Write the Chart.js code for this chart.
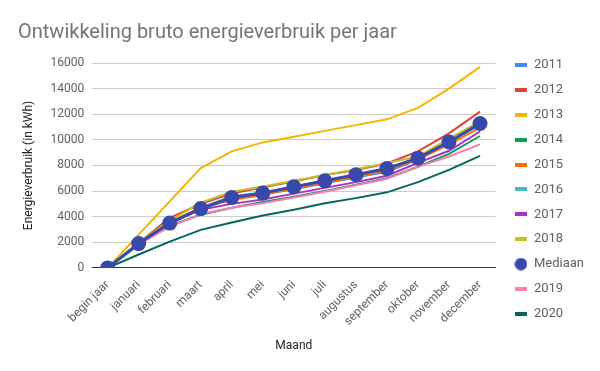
<!DOCTYPE html>
<html>
<head>
<meta charset="utf-8">
<script src="https://cdn.jsdelivr.net/npm/chart.js@4"></script>
<style>
  body { margin: 0; background: #fff; }
  #wrap { width: 600px; height: 371px; position: relative; }
</style>
</head>
<body>
<div id="wrap"><canvas id="myChart"></canvas></div>
<script>
const months = ['begin jaar', 'januari', 'februari', 'maart', 'april', 'mei', 'juni', 'juli',
  'augustus', 'september', 'oktober', 'november', 'december'];

const y2011 = [0, 1900, 3500, 4600, 5400, 5750, 6150, 6600, 7050, 7500, 8450, 9800, 11200];
const y2012 = [0, 1950, 3900, 5000, 5800, 6300, 6750, 7250, 7650, 8150, 9100, 10500, 12200];
const y2013 = [0, 2600, 5200, 7800, 9100, 9800, 10250, 10700, 11150, 11600, 12500, 14000, 15700];
const y2014 = [0, 1850, 3300, 4150, 4700, 5150, 5550, 6000, 6500, 7000, 7900, 8900, 10300];
const y2015 = [0, 1900, 3600, 4700, 5300, 5700, 6200, 6650, 7100, 7600, 8450, 9650, 10950];
const y2016 = [0, 1750, 3400, 4700, 5600, 5900, 6350, 6800, 7250, 7700, 8550, 9850, 11200];
const y2017 = [0, 1900, 3500, 4550, 5000, 5350, 5800, 6250, 6700, 7200, 8200, 9150, 10650];
const y2018 = [0, 1950, 3700, 5100, 5950, 6350, 6800, 7250, 7700, 8200, 8700, 10100, 11450];
const mediaan = [0, 1900, 3500, 4630, 5500, 5840, 6330, 6800, 7270, 7760, 8570, 9840, 11280];
const y2019 = [0, 1850, 3200, 4200, 4700, 5050, 5500, 5950, 6450, 6950, 7900, 8700, 9650];
const y2020 = [0, 1050, 2050, 2970, 3550, 4100, 4550, 5050, 5450, 5900, 6700, 7650, 8750];

const yTicks = [0, 2000, 4000, 6000, 8000, 10000, 12000, 14000, 16000];

// legend markers: short bar for lines, dot for the median
function barIcon(color) {
  const c = document.createElement('canvas');
  c.width = 12; c.height = 4;
  const g = c.getContext('2d');
  g.fillStyle = color;
  g.fillRect(0, 0, 12, 4);
  return c;
}
function dotIcon(color) {
  const c = document.createElement('canvas');
  c.width = 13; c.height = 13;
  const g = c.getContext('2d');
  g.fillStyle = color;
  g.beginPath();
  g.arc(6.5, 6.5, 6.2, 0, Math.PI * 2);
  g.fill();
  return c;
}

const series = [
  ['2011', y2011, '#4285f4'],
  ['2012', y2012, '#db4437'],
  ['2013', y2013, '#f4b400'],
  ['2014', y2014, '#0f9d58'],
  ['2015', y2015, '#ff6d01'],
  ['2016', y2016, '#46bdc6'],
  ['2017', y2017, '#ab30c4'],
  ['2018', y2018, '#c2c026'],
  ['Mediaan', mediaan, '#3949ab'],
  ['2019', y2019, '#f77fb0'],
  ['2020', y2020, '#00695c'],
];

const datasets = series.map(([label, values, color], i) => {
  const isMedian = label === 'Mediaan';
  return {
    label: label,
    data: values,
    borderColor: color,
    backgroundColor: color,
    borderWidth: isMedian ? 3 : 2,
    pointRadius: isMedian ? 6 : 0,
    pointHoverRadius: isMedian ? 6 : 0,
    pointStyle: 'circle',
    tension: 0,
    fill: false,
    yAxisID: 'y',
    order: isMedian ? -20 : -i,
  };
});

const chart = new Chart(document.getElementById('myChart'), {
  type: 'line',
  data: { labels: months, datasets },
  options: {
    responsive: true,
    maintainAspectRatio: false,
    animation: false,
    layout: { padding: { left: 18, right: 6, top: 21, bottom: 14 } },
    plugins: {
      title: {
        display: true,
        text: 'Ontwikkeling bruto energieverbruik per jaar',
        align: 'start',
        color: '#757575',
        font: { family: 'Roboto', size: 20, weight: 'normal' },
        padding: { top: 0, bottom: 18 },
      },
      legend: {
        position: 'right',
        align: 'start',
        title: { display: true, text: '', font: { size: 10 }, padding: { top: 13.5, bottom: 0 } },
        labels: {
          usePointStyle: true,
          pointStyleWidth: 13,
          boxHeight: 13,
          padding: 11.9,
          color: '#616161',
          font: { family: 'Roboto', size: 13 },
          generateLabels: (ch) => ch.data.datasets.map((ds, i) => ({
            text: ds.label,
            fillStyle: ds.borderColor,
            strokeStyle: ds.borderColor,
            lineWidth: 0,
            pointStyle: ds.label === 'Mediaan' ? dotIcon(ds.borderColor) : barIcon(ds.borderColor),
            hidden: false,
            datasetIndex: i,
            fontColor: '#616161',
          })),
        },
      },
      tooltip: { enabled: false },
    },
    scales: {
      x: {
        offset: true,
        grid: { display: false },
        border: { display: true, color: '#333', width: 1 },
        ticks: {
          color: '#616161',
          font: { family: 'Roboto', size: 12 },
          minRotation: 45,
          maxRotation: 45,
          padding: 2,
        },
        title: {
          display: true,
          text: 'Maand',
          color: '#222',
          font: { family: 'Roboto', size: 12 },
          padding: { top: 8 },
        },
      },
      y: {
        min: 0,
        max: 16000,
        afterBuildTicks: (axis) => { axis.ticks = yTicks.map(v => ({ value: v })); },
        grid: {
          color: (ctx) => ctx.tick && ctx.tick.value === 0 ? '#333' : '#cccccc',
          drawTicks: false,
        },
        border: { display: false },
        ticks: {
          color: '#616161',
          font: { family: 'Roboto', size: 12 },
          padding: 8,
          callback: (v) => String(v),
        },
        title: {
          display: true,
          text: 'Energieverbruik (in kWh)',
          color: '#222',
          font: { family: 'Roboto', size: 12 },
          padding: { bottom: 6 },
        },
      },
      // empty strip between plot and legend
      gap: {
        position: 'right',
        grid: { display: false },
        border: { display: false },
        ticks: { display: false },
        afterFit: (s) => { s.width = 7; },
      },
    },
  },
});
</script>
</body>
</html>
